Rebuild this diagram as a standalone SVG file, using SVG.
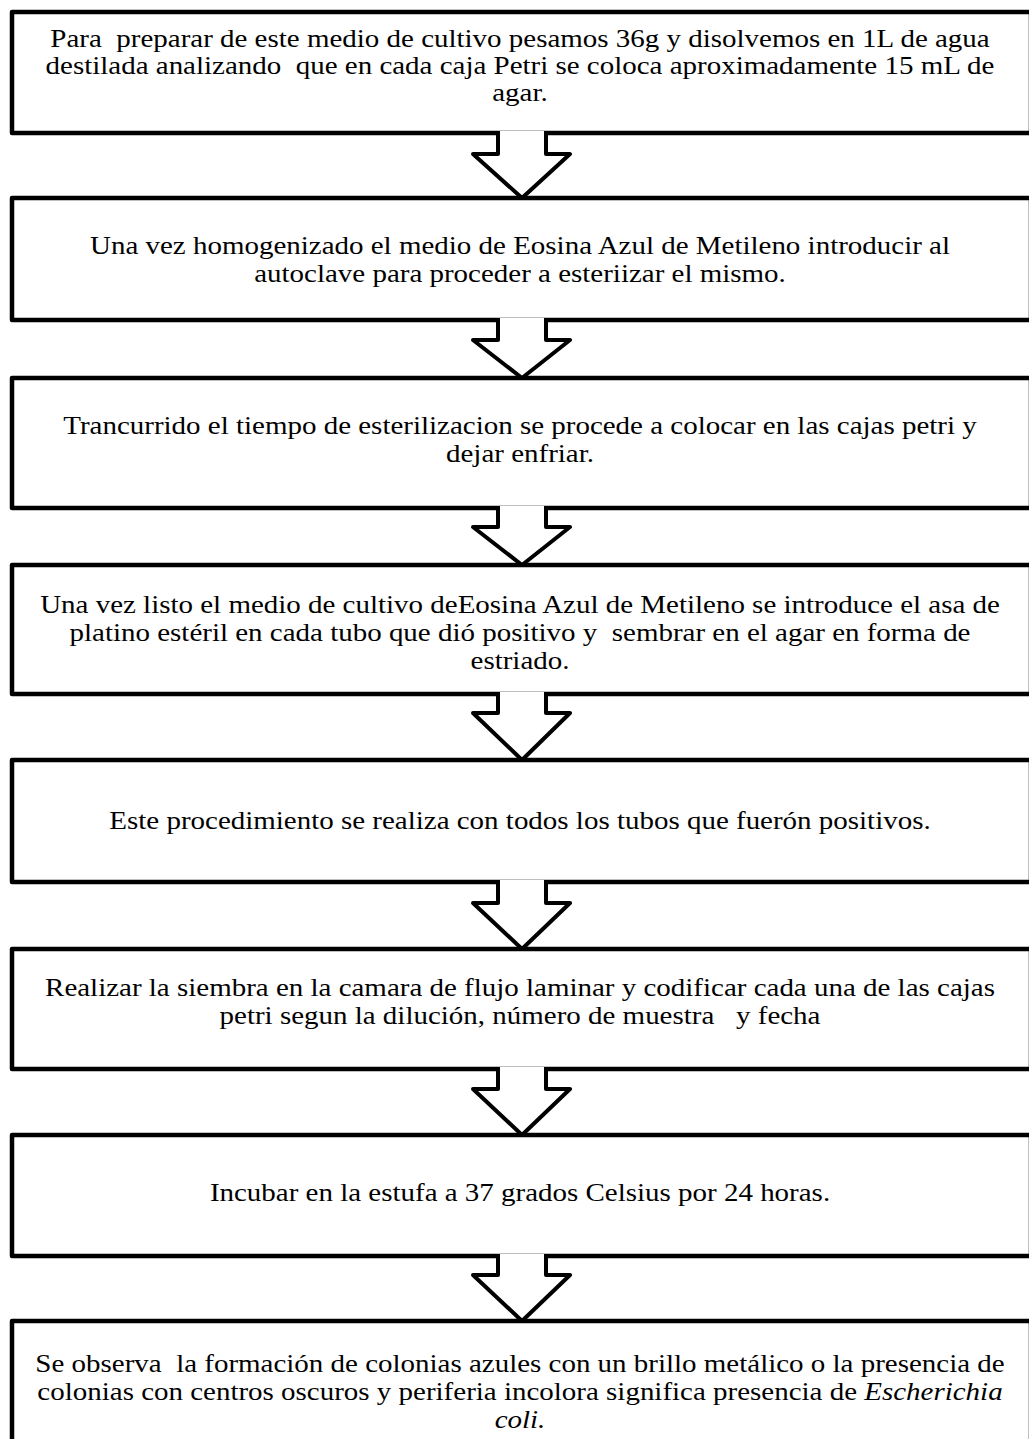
<svg xmlns="http://www.w3.org/2000/svg" width="1029" height="1439" viewBox="0 0 1029 1439">
<style>
.box{fill:#fff;stroke:#000;stroke-width:4.5;stroke-linejoin:round}
.arr{fill:#fff;stroke:#000;stroke-width:4;stroke-linejoin:round}
.t{font-family:"Liberation Serif","Times New Roman",Times,serif;font-size:26px;fill:#000;text-anchor:middle;white-space:pre}
</style>
<rect width="1029" height="1439" fill="#fff"/>
<g id="n1"><rect class="box" x="12" y="12" width="1019" height="121"/>
<g transform="translate(520,0) scale(1.115,1)">
<text class="t" x="0" y="47" xml:space="preserve">Para  preparar de este medio de cultivo pesamos 36g y disolvemos en 1L de agua</text>
<text class="t" x="0" y="74" xml:space="preserve">destilada analizando  que en cada caja Petri se coloca aproximadamente 15 mL de</text>
<text class="t" x="0" y="101">agar.</text></g></g>
<g id="n2"><rect class="box" x="12" y="198" width="1019" height="122"/>
<g transform="translate(520,0) scale(1.115,1)">
<text class="t" x="0" y="254">Una vez homogenizado el medio de Eosina Azul de Metileno introducir al</text>
<text class="t" x="0" y="282">autoclave para proceder a esteriizar el mismo.</text></g></g>
<g id="n3"><rect class="box" x="12" y="378" width="1019" height="130"/>
<g transform="translate(520,0) scale(1.115,1)">
<text class="t" x="0" y="434">Trancurrido el tiempo de esterilizacion se procede a colocar en las cajas petri y</text>
<text class="t" x="0" y="462">dejar enfriar.</text></g></g>
<g id="n4"><rect class="box" x="12" y="565" width="1019" height="129"/>
<g transform="translate(520,0) scale(1.115,1)">
<text class="t" x="0" y="613">Una vez listo el medio de cultivo deEosina Azul de Metileno se introduce el asa de</text>
<text class="t" x="0" y="641" xml:space="preserve">platino estéril en cada tubo que dió positivo y  sembrar en el agar en forma de</text>
<text class="t" x="0" y="669">estriado.</text></g></g>
<g id="n5"><rect class="box" x="12" y="760" width="1019" height="122"/>
<g transform="translate(520,0) scale(1.115,1)">
<text class="t" x="0" y="829">Este procedimiento se realiza con todos los tubos que fuerón positivos.</text></g></g>
<g id="n6"><rect class="box" x="12" y="949" width="1019" height="120"/>
<g transform="translate(520,0) scale(1.115,1)">
<text class="t" x="0" y="996">Realizar la siembra en la camara de flujo laminar y codificar cada una de las cajas</text>
<text class="t" x="0" y="1024" xml:space="preserve">petri segun la dilución, número de muestra   y fecha</text></g></g>
<g id="n7"><rect class="box" x="12" y="1135" width="1019" height="121"/>
<g transform="translate(520,0) scale(1.115,1)">
<text class="t" x="0" y="1201">Incubar en la estufa a 37 grados Celsius por 24 horas.</text></g></g>
<g id="n8"><rect class="box" x="12" y="1321" width="1019" height="130"/>
<g transform="translate(520,0) scale(1.115,1)">
<text class="t" x="0" y="1372" xml:space="preserve">Se observa  la formación de colonias azules con un brillo metálico o la presencia de</text>
<text class="t" x="0" y="1400">colonias con centros oscuros y periferia incolora significa presencia de <tspan font-style="italic">Escherichia</tspan></text>
<text class="t" x="0" y="1428"><tspan font-style="italic">coli.</tspan></text></g></g>
<g id="connectors">
<path class="arr" d="M498,131 L498,154 L473,154 L522,198 L570,154 L546,154 L546,131"/>
<path class="arr" d="M498,318 L498,340 L473,340 L522,378 L570,340 L546,340 L546,318"/>
<path class="arr" d="M498,506 L498,527 L473,527 L522,565 L570,527 L546,527 L546,506"/>
<path class="arr" d="M498,692 L498,713 L473,713 L522,760 L570,713 L546,713 L546,692"/>
<path class="arr" d="M498,880 L498,903 L473,903 L522,949 L570,903 L546,903 L546,880"/>
<path class="arr" d="M498,1067 L498,1089 L473,1089 L522,1135 L570,1089 L546,1089 L546,1067"/>
<path class="arr" d="M498,1254 L498,1275 L473,1275 L522,1321 L570,1275 L546,1275 L546,1254"/>
</g>
</svg>
